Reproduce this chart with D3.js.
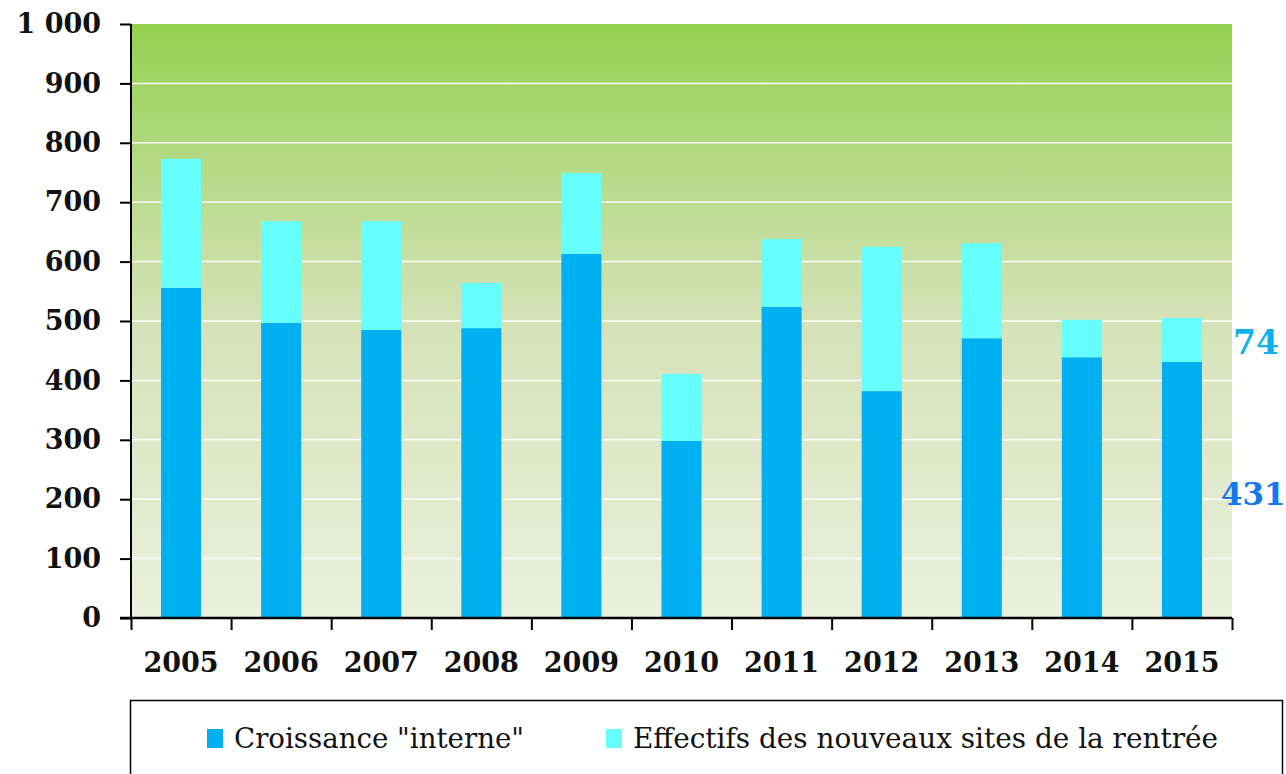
<!DOCTYPE html>
<html>
<head>
<meta charset="utf-8">
<script src="https://cdn.jsdelivr.net/npm/d3@7"></script>
<style>
  body { margin: 0; background: #fff; }
  svg { display: block; }
</style>
</head>
<body>
<svg id="chart"></svg>
<script>
// data
const years = ["2005", "2006", "2007", "2008", "2009", "2010", "2011", "2012", "2013", "2014", "2015"];
const interne = [556, 497, 485, 488, 613, 298, 524, 382, 471, 439, 431];
const nouveaux = [217, 171, 183, 76, 136, 113, 114, 243, 160, 63, 74];
const yTicks = [0, 100, 200, 300, 400, 500, 600, 700, 800, 900, 1000];
const seriesNames = ["Croissance \"interne\"", "Effectifs des nouveaux sites de la rentrée"];
const seriesColors = ["#00b0f0", "#66ffff"];

const width = 1286, height = 774;
const margin = { left: 131, top: 24, right: 54, bottom: 156 };
const plotW = width - margin.left - margin.right;
const plotH = height - margin.top - margin.bottom;

const svg = d3.select("#chart").attr("width", width).attr("height", height);

// background gradient of the plot area
const grad = svg.append("defs").append("linearGradient")
  .attr("id", "bg").attr("x1", 0).attr("y1", 0).attr("x2", 0).attr("y2", 1);
grad.selectAll("stop")
  .data([[0, "#93d150"], [0.25, "#b6da88"], [0.5, "#d5e2b8"], [1, "#ebf0dc"]])
  .join("stop")
  .attr("offset", d => d[0])
  .attr("stop-color", d => d[1]);

const g = svg.append("g").attr("transform", `translate(${margin.left},${margin.top})`);

const x = d3.scaleBand().domain(years).range([0, plotW]).paddingInner(0.6).paddingOuter(0.3);
const y = d3.scaleLinear().domain([0, 1000]).range([plotH, 0]);

g.append("rect").attr("width", plotW).attr("height", plotH).attr("fill", "url(#bg)");

// white gridlines
g.selectAll("line.grid")
  .data(yTicks.filter(d => d > 0 && d < 1000))
  .join("line")
  .attr("class", "grid")
  .attr("x1", 0).attr("x2", plotW)
  .attr("y1", d => y(d)).attr("y2", d => y(d))
  .attr("stroke", "#fff").attr("stroke-width", 1.5);

// stacked bars
const rows = years.map((yr, i) => ({ year: yr, interne: interne[i], nouveaux: nouveaux[i] }));
const stack = d3.stack().keys(["interne", "nouveaux"])(rows);

g.selectAll("g.layer")
  .data(stack)
  .join("g")
  .attr("class", "layer")
  .attr("fill", (d, i) => seriesColors[i])
  .selectAll("rect")
  .data(d => d)
  .join("rect")
  .attr("x", d => x(d.data.year))
  .attr("width", x.bandwidth())
  .attr("y", d => y(d[1]))
  .attr("height", d => y(d[0]) - y(d[1]));

// axes
const locale = d3.formatLocale({ decimal: ",", thousands: " ", grouping: [3], currency: ["", " €"] });
const fmt = locale.format(",d");

const yAxis = g.append("g")
  .call(d3.axisLeft(y).tickValues(yTicks).tickFormat(fmt).tickSize(11).tickPadding(19));
yAxis.select(".domain").attr("d", `M0,${plotH}V0`).attr("stroke-width", 2);

const xTickScale = d3.scaleLinear().domain([0, years.length]).range([0, plotW]);
const xAxis = g.append("g").attr("transform", `translate(0,${plotH})`)
  .call(d3.axisBottom(xTickScale).tickValues(d3.range(years.length + 1)).tickFormat("").tickSize(12));
xAxis.select(".domain").attr("d", `M-11,0H${plotW}`).attr("stroke-width", 2.5);

g.selectAll(".tick line").attr("stroke", "#000").attr("stroke-width", 2);
yAxis.selectAll("text")
  .attr("font-family", "DejaVu Serif").attr("font-weight", "bold")
  .attr("font-size", 27).attr("fill", "#111");

g.append("g").selectAll("text")
  .data(years)
  .join("text")
  .attr("x", d => x(d) + x.bandwidth() / 2)
  .attr("y", plotH + 45)
  .attr("dy", "0.35em")
  .attr("text-anchor", "middle")
  .attr("font-family", "DejaVu Serif").attr("font-weight", "bold")
  .attr("font-size", 27).attr("fill", "#111")
  .text(d => d);

// value labels for the last year
const last = years.length - 1;
const lastX = x(years[last]) + x.bandwidth();
g.append("text")
  .attr("x", lastX + 31)
  .attr("y", y(interne[last] + nouveaux[last] / 2) + 2)
  .attr("dy", "0.35em")
  .attr("font-family", "DejaVu Serif").attr("font-weight", "bold")
  .attr("font-size", 33).attr("fill", "#10b0ec")
  .text(nouveaux[last]);
g.append("text")
  .attr("x", lastX + 19)
  .attr("y", y(interne[last] / 2) + 4)
  .attr("dy", "0.35em")
  .attr("font-family", "DejaVu Serif").attr("font-weight", "bold")
  .attr("font-size", 31).attr("fill", "#1478f0")
  .text(interne[last]);

// legend
const legend = svg.append("g");
legend.append("rect")
  .attr("x", 130.5).attr("y", 700.5).attr("width", 1152).attr("height", 80)
  .attr("fill", "#fff").attr("stroke", "#000").attr("stroke-width", 1.5);

const legendX = [207, 606];
const legendTextW = [290, 585];
const items = legend.selectAll("g.item")
  .data(seriesNames)
  .join("g")
  .attr("class", "item")
  .attr("transform", (d, i) => `translate(${legendX[i]},0)`);
items.append("rect")
  .attr("y", 729).attr("width", 16).attr("height", 19)
  .attr("fill", (d, i) => seriesColors[i]);
items.append("text")
  .attr("x", 27).attr("y", 748)
  .attr("font-family", "DejaVu Serif")
  .attr("font-size", 28).attr("fill", "#111")
  .attr("textLength", (d, i) => legendTextW[i])
  .attr("lengthAdjust", "spacingAndGlyphs")
  .text(d => d);
</script>
</body>
</html>
